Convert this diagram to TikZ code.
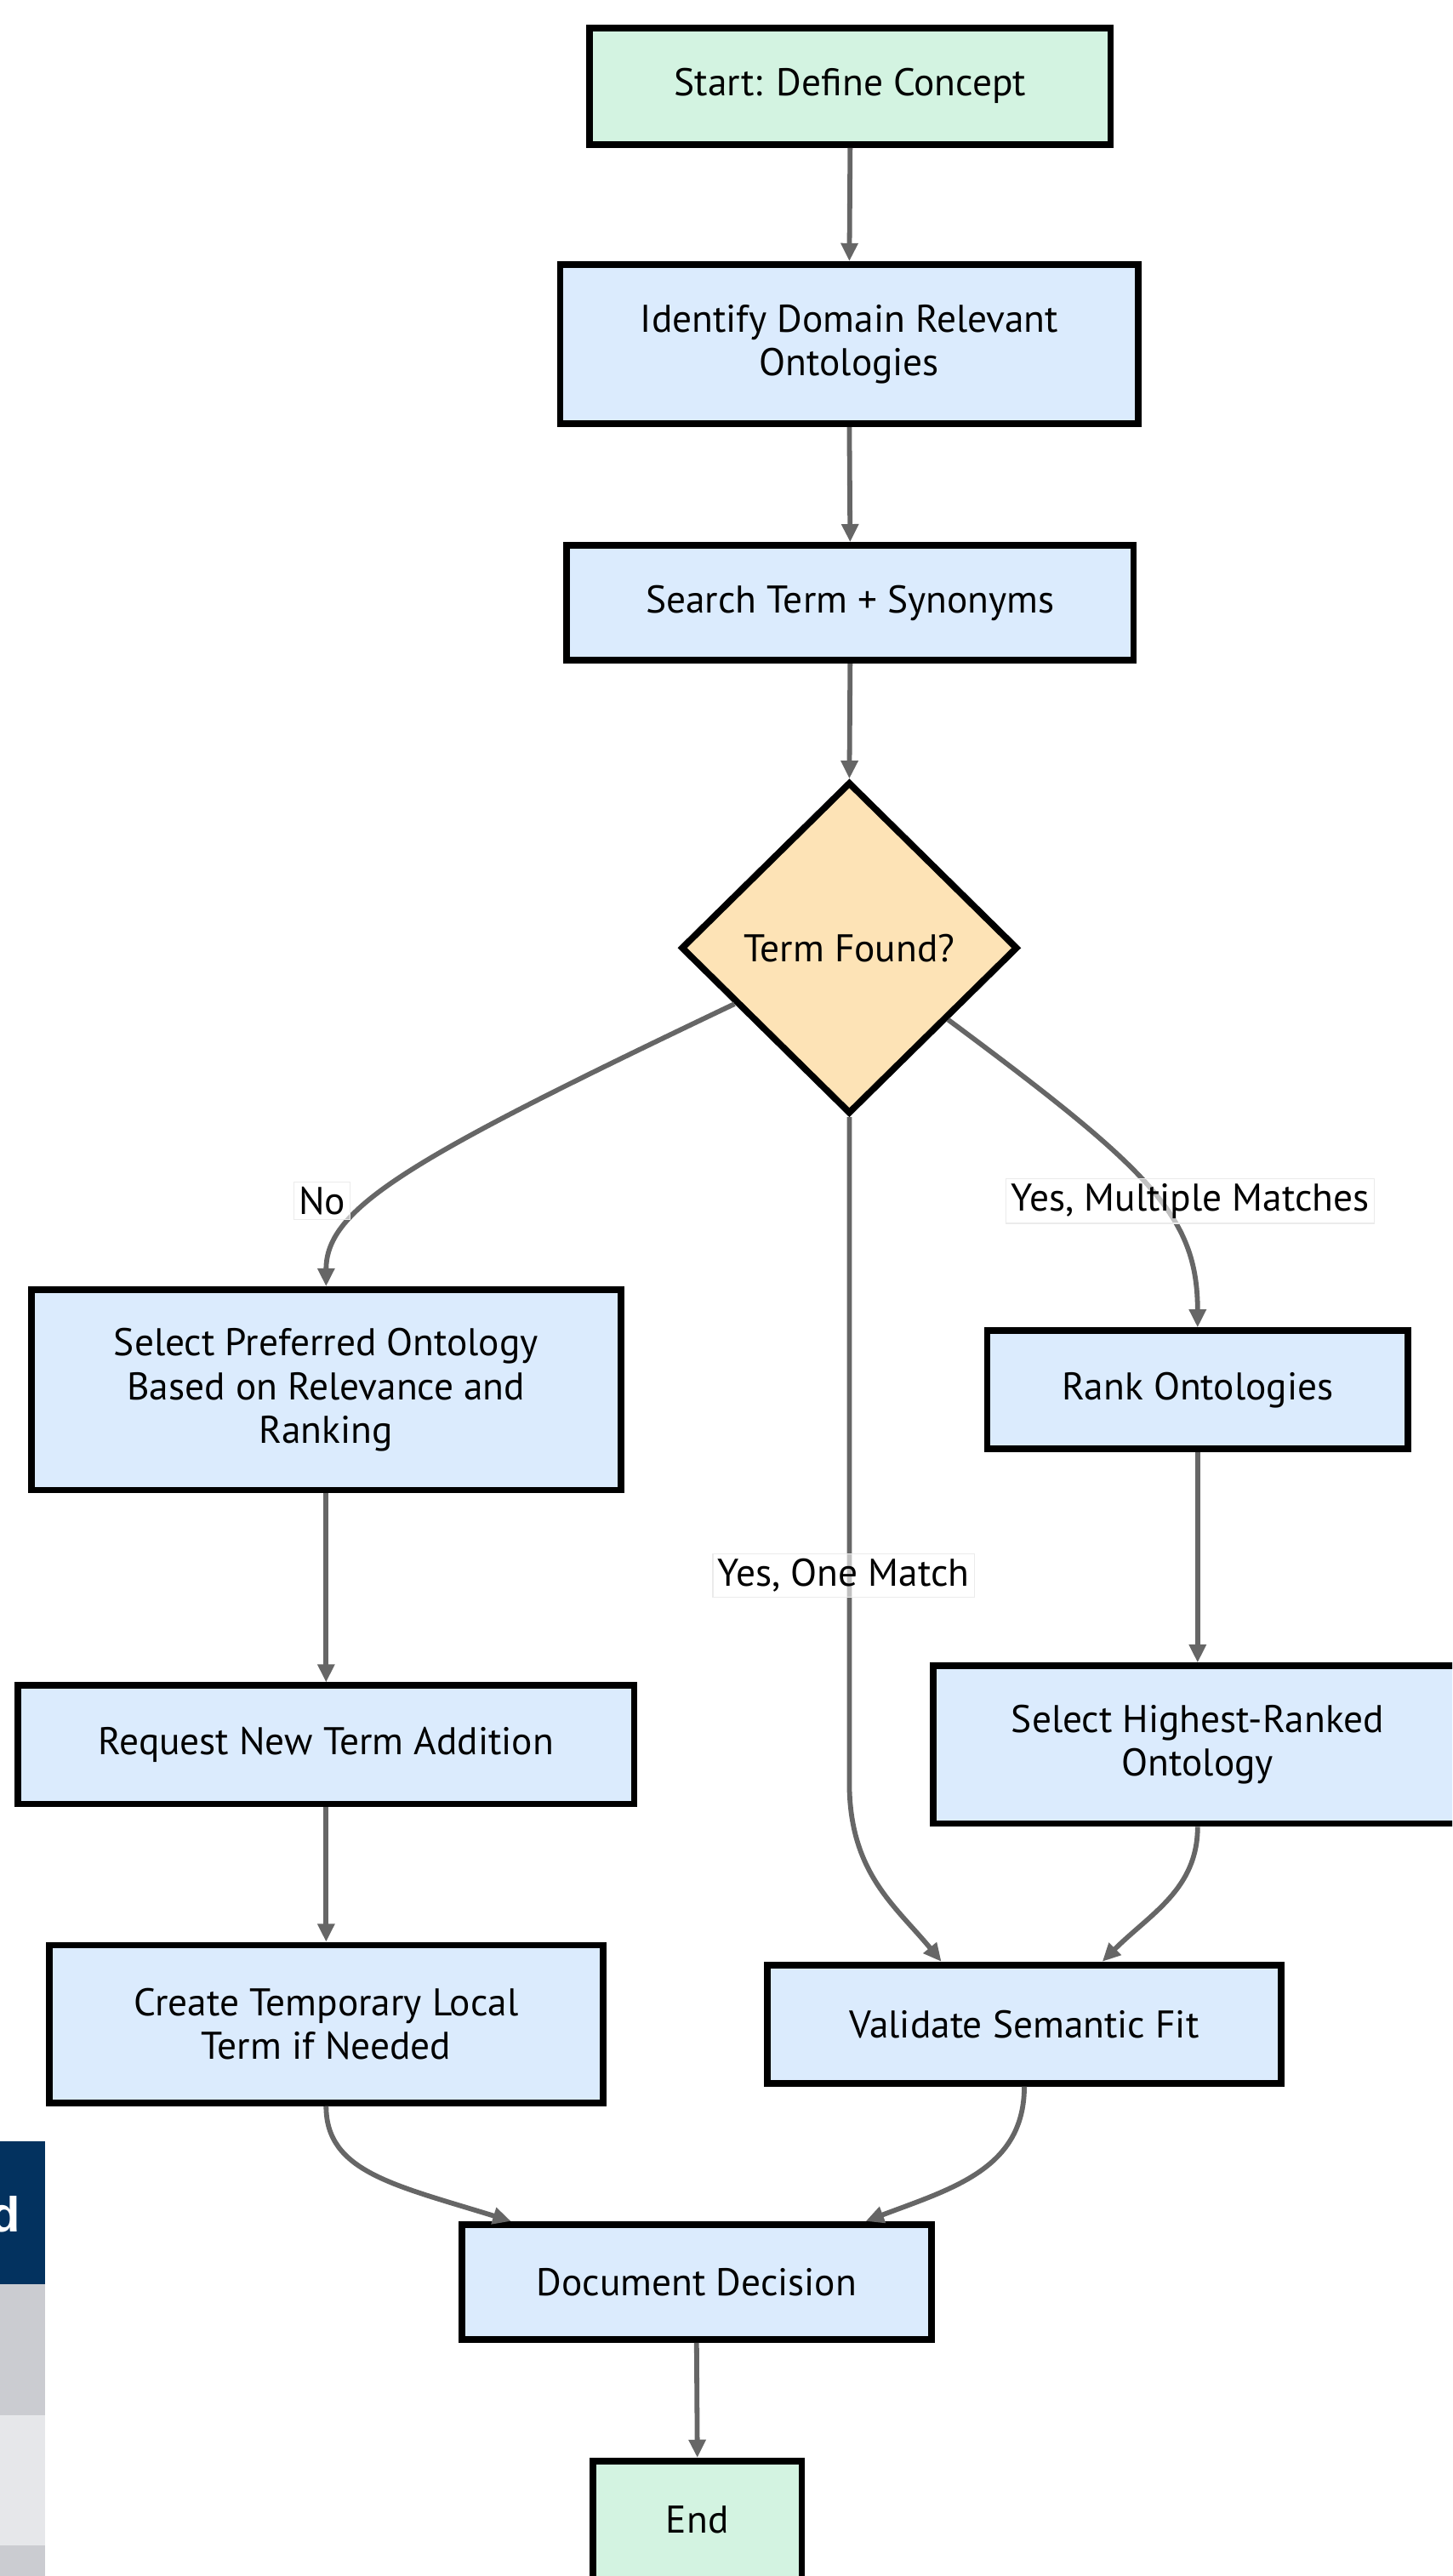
\documentclass[tikz,border=0pt]{standalone}
\usepackage{fontspec}
\setmainfont{PT Sans}
\newfontfamily\tablefont{Liberation Sans}
\usetikzlibrary{arrows.meta,shapes.geometric}
\definecolor{boxblue}{HTML}{DBEBFD}
\definecolor{boxgreen}{HTML}{D3F3E1}
\definecolor{boxpeach}{HTML}{FDE3B6}
\definecolor{edgegray}{HTML}{666666}
\definecolor{navy}{HTML}{03325F}
\definecolor{rowdark}{HTML}{CBCCD1}
\definecolor{rowlight}{HTML}{E6E7EA}
\tikzset{
  every node/.style={font=\fontsize{23.5}{26.5}\selectfont, text=black},
  procbox/.style={draw=black, line width=4pt, fill=boxblue, inner sep=0pt, align=center},
  termbox/.style={procbox, fill=boxgreen},
  decbox/.style={diamond, draw=black, line width=4pt, fill=boxpeach, inner sep=0pt, minimum width=205pt, minimum height=202pt},
  flow/.style={draw=edgegray, line width=3pt, -{Triangle[length=11pt,width=10pt]}},
  edgelabel/.style={fill=white, fill opacity=0.6, text opacity=1, draw=black!8, line width=0.6pt, inner sep=3pt}
}
\begin{document}
\begin{tikzpicture}[x=1pt,y=-1pt]
\useasboundingbox (0,0) rectangle (884,1568);
\clip (0,0) rectangle (884,1568);
% partial table at left edge
\fill[navy] (0,1303.5) rectangle (27.3,1390.5);
\fill[rowdark] (0,1390.5) rectangle (27.3,1470);
\fill[rowlight] (0,1470) rectangle (27.3,1549.5);
\fill[rowdark] (0,1549.5) rectangle (27.3,1568);
\node[anchor=base east, inner sep=0pt, text=white, font=\tablefont\bfseries\fontsize{30}{30}\selectfont] (tabd) at (12.6,1358.5) {d};
% nodes
\node[termbox, minimum width=317pt, minimum height=71pt] (start) at (517.5,52.5) {Start: Define Concept};
\node[procbox, minimum width=352pt, minimum height=97pt] (ident) at (517,209.5) {Identify Domain Relevant\\Ontologies};
\node[procbox, minimum width=345pt, minimum height=70pt] (search) at (517.5,367) {Search Term + Synonyms};
\node[decbox] (dec) at (517,577) {Term Found?};
\node[procbox, minimum width=359pt, minimum height=122pt] (pref) at (198.5,846) {Select Preferred Ontology\\Based on Relevance and\\Ranking};
\node[procbox, minimum width=256pt, minimum height=72pt] (rank) at (729,846) {Rank Ontologies};
\node[procbox, minimum width=375pt, minimum height=72pt] (req) at (198.5,1062) {Request New Term Addition};
\node[procbox, minimum width=322pt, minimum height=96pt] (high) at (729,1062) {Select Highest-Ranked\\Ontology};
\node[procbox, minimum width=337pt, minimum height=96pt] (temp) at (198.5,1232) {Create Temporary Local\\Term if Needed};
\node[procbox, minimum width=313pt, minimum height=72pt] (valid) at (623.5,1232) {Validate Semantic Fit};
\node[procbox, minimum width=286pt, minimum height=70pt] (doc) at (424,1389) {Document Decision};
\node[termbox, minimum width=127pt, minimum height=72pt] (end) at (424.5,1534) {End};
% connectors
\draw[flow] (start.south) -- (ident.north);
\draw[flow] (ident.south) -- (search.north);
\draw[flow] (search.south) -- (dec.north);
\draw[flow] (dec.206) .. controls (250,705) and (198.5,735) .. (pref.north);
\draw[flow] (dec.south) -- (517,1085) .. controls (517,1140) and (545,1160) .. ([xshift=-50.5pt]valid.north);
\draw[flow] (dec.-36) .. controls (700,712) and (729,740) .. (rank.north);
\draw[flow] (pref.south) -- (req.north);
\draw[flow] (req.south) -- (temp.north);
\draw[flow] (rank.south) -- (high.north);
\draw[flow] (high.south) .. controls (729,1150) and (700,1165) .. ([xshift=47.5pt]valid.north);
\draw[flow] (temp.south) .. controls (198.5,1322) and (240,1330) .. ([xshift=-113pt]doc.north);
\draw[flow] (valid.south) .. controls (623.5,1320) and (580,1332) .. ([xshift=103pt]doc.north);
\draw[flow] (doc.south) -- (end.north);
% edge labels
\node[edgelabel] (lno) at (196,731) {No};
\node[edgelabel] (lmulti) at (724.5,731) {Yes, Multiple Matches};
\node[edgelabel] (lone) at (513.5,959) {Yes, One Match};
\end{tikzpicture}
\end{document}
